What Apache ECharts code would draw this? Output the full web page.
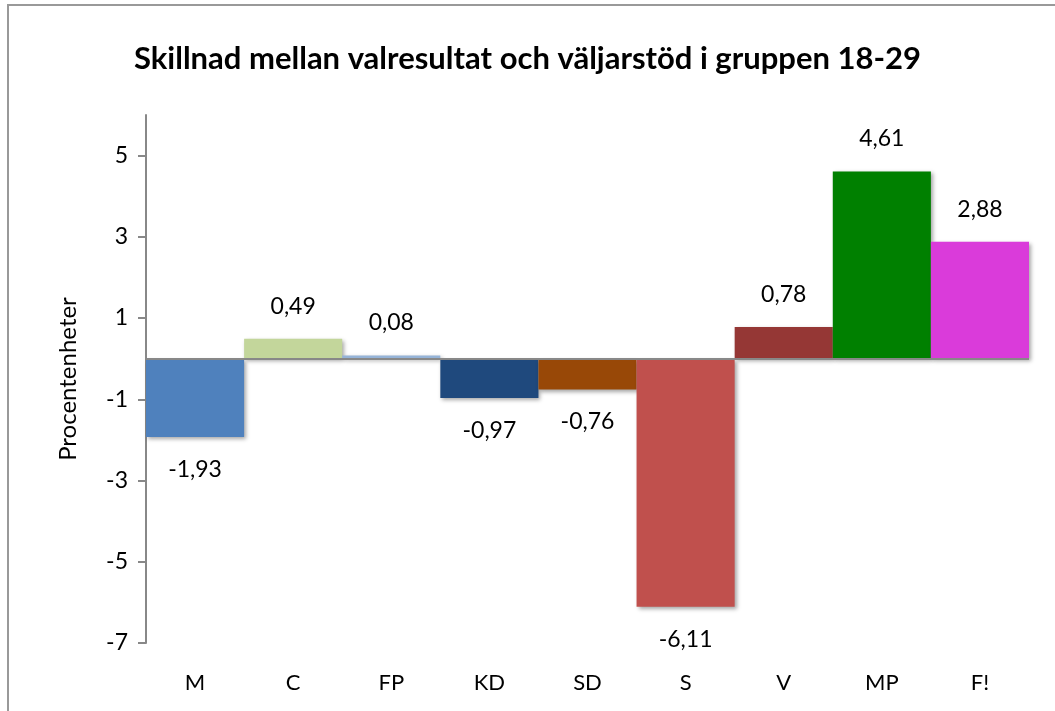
<!DOCTYPE html>
<html>
<head>
<meta charset="utf-8">
<script src="https://cdn.jsdelivr.net/npm/echarts@6/dist/echarts.min.js"></script>
<style>
  html, body { margin: 0; padding: 0; background: #fff; }
  #chart { width: 1055px; height: 711px; }
</style>
</head>
<body>
<div id="chart"></div>
<script>
// partier och skillnad i procentenheter
const parties = ['M', 'C', 'FP', 'KD', 'SD', 'S', 'V', 'MP', 'F!'];
const diffs = [-1.93, 0.49, 0.08, -0.97, -0.76, -6.11, 0.78, 4.61, 2.88];
const partyColors = ['#4F81BD', '#C3D69B', '#95B3D7', '#1F497D', '#984807', '#C0504D', '#953735', '#008000', '#DA3BDA'];
const yTicks = [-7, -5, -3, -1, 1, 3, 5];

const chart = echarts.init(document.getElementById('chart'));

const option = {
  animation: false,
  textStyle: { fontFamily: 'Lato, "Noto Sans", sans-serif' },
  title: {
    text: 'Skillnad mellan valresultat och väljarstöd i gruppen 18-29',
    left: 'center',
    top: 38,
    textStyle: {
      fontFamily: 'Lato, "Noto Sans", sans-serif',
      fontSize: 31,
      fontWeight: 'bold',
      color: '#000'
    }
  },
  graphic: [
    {
      type: 'rect',
      shape: { x: 8, y: 5, width: 1200, height: 900 },
      style: { fill: 'none', stroke: '#999', lineWidth: 2 },
      silent: true
    }
  ],
  grid: {
    left: 146,
    right: 26,
    top: 115,
    bottom: 68
  },
  xAxis: {
    type: 'category',
    data: parties,
    position: 'bottom',
    axisLine: { show: false, onZero: false },
    axisTick: { show: false },
    axisLabel: {
      margin: 29,
      fontSize: 22,
      color: '#000'
    }
  },
  yAxis: {
    type: 'value',
    min: -7,
    max: 6,
    name: 'Procentenheter',
    nameLocation: 'middle',
    nameGap: 66,
    nameTextStyle: { fontSize: 24, color: '#000' },
    splitLine: { show: false },
    axisLine: { show: true, lineStyle: { color: '#888', width: 2 } },
    axisTick: {
      show: true,
      length: 8,
      customValues: yTicks,
      lineStyle: { color: '#888', width: 2 }
    },
    axisLabel: {
      customValues: yTicks,
      margin: 18,
      fontSize: 23,
      color: '#000'
    }
  },
  series: [
    {
      type: 'bar',
      barCategoryGap: '0%',
      data: diffs.map((v, i) => ({
        value: v,
        itemStyle: { color: partyColors[i] },
        label: { position: v < 0 ? 'bottom' : 'top' }
      })),
      itemStyle: {
        shadowColor: 'rgba(0,0,0,0.35)',
        shadowBlur: 4,
        shadowOffsetX: 2,
        shadowOffsetY: 2
      },
      label: {
        show: true,
        distance: 21,
        fontSize: 23,
        color: '#000',
        formatter: p => String(p.value.toFixed(2)).replace('.', ',')
      },
      markLine: {
        silent: true,
        symbol: 'none',
        label: { show: false },
        lineStyle: { color: '#888', width: 2, type: 'solid' },
        data: [{ yAxis: 0 }]
      }
    }
  ]
};

chart.setOption(option);
</script>
</body>
</html>
